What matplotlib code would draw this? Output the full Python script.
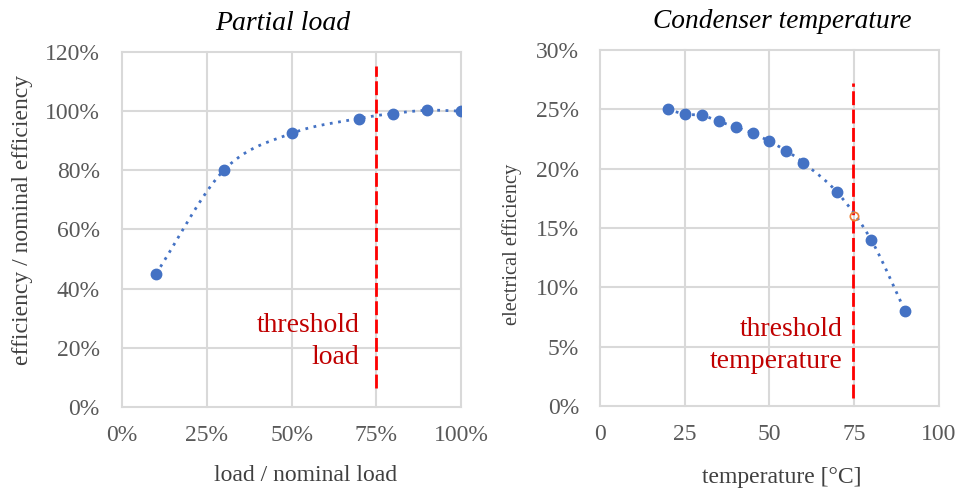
import numpy as np
import matplotlib
matplotlib.use("Agg")
import matplotlib.pyplot as plt
from matplotlib.ticker import FuncFormatter

# ---- data ----
load_x = [10, 30, 50, 70, 80, 90, 100]            # % of nominal load
load_eff = [45.0, 80.0, 92.5, 97.5, 99.2, 100.3, 100.0]  # % of nominal efficiency
load_threshold = 75
load_xticks = [0, 25, 50, 75, 100]
load_yticks = [0, 20, 40, 60, 80, 100, 120]

temp_x = [20, 25, 30, 35, 40, 45, 50, 55, 60, 70, 80, 90]   # degC
temp_eff = [25.0, 24.6, 24.5, 24.0, 23.5, 23.0, 22.3, 21.5, 20.5, 18.0, 14.0, 8.0]  # %
temp_threshold = 75
temp_threshold_eff = 16.0
temp_xticks = [0, 25, 50, 75, 100]
temp_yticks = [0, 5, 10, 15, 20, 25, 30]

BLUE = "#4472C4"
RED_LINE = "#FF0000"
RED_TEXT = "#C00000"
ORANGE = "#ED7D31"
GRID = "#D9D9D9"
TICK = "#595959"
LABEL = "#404040"

plt.rcParams['font.family'] = ['Liberation Serif', 'DejaVu Serif']

W, H = 961, 488


def catmull_rom(xs, ys, n=30):
    xs = np.asarray(xs, float)
    ys = np.asarray(ys, float)
    P = np.column_stack([xs, ys])
    P = np.vstack([2 * P[0] - P[1], P, 2 * P[-1] - P[-2]])
    out = []
    t = np.linspace(0, 1, n)[:, None]
    for i in range(1, len(P) - 2):
        p0, p1, p2, p3 = P[i - 1], P[i], P[i + 1], P[i + 2]
        seg = 0.5 * ((2 * p1) + (-p0 + p2) * t + (2 * p0 - 5 * p1 + 4 * p2 - p3) * t ** 2
                     + (-p0 + 3 * p1 - 3 * p2 + p3) * t ** 3)
        out.append(seg if i == 1 else seg[1:])
    out = np.vstack(out)
    return out[:, 0], out[:, 1]


fig = plt.figure(figsize=(W / 100, H / 100), dpi=100)
ax1 = fig.add_axes([0.1270, 0.1660, 0.3528, 0.7275])
ax2 = fig.add_axes([0.6243, 0.1680, 0.3528, 0.7295])


def style(ax, xt, yt, xfmt, yfmt, ypad):
    ax.set_xlim(xt[0], xt[-1])
    ax.set_ylim(yt[0], yt[-1])
    ax.set_xticks(xt)
    ax.set_yticks(yt)
    ax.xaxis.set_major_formatter(FuncFormatter(xfmt))
    ax.yaxis.set_major_formatter(FuncFormatter(yfmt))
    for s in ax.spines.values():
        s.set_visible(False)
    ax.grid(True, color=GRID, linewidth=1.5)
    for gl in ax.get_xgridlines() + ax.get_ygridlines():
        gl.set_clip_on(False)
    ax.set_axisbelow(True)
    ax.tick_params(axis='both', length=0, labelsize=17, labelcolor=TICK)
    ax.tick_params(axis='y', pad=ypad)
    ax.tick_params(axis='x', pad=13)


pct = lambda v, p: f"{v:.0f}%"
num = lambda v, p: f"{v:.0f}"


def ftext(px, py, s, **kw):
    fig.text(px / W, 1 - py / H, s, **kw)


# ---- left chart ----
style(ax1, load_xticks, load_yticks, pct, pct, 16)
cx, cy = catmull_rom(load_x, load_eff)
ax1.plot(cx, cy, color=BLUE, linestyle=(0, (1, 2)), linewidth=2, zorder=3)
ax1.plot(load_x, load_eff, 'o', color=BLUE, markersize=7.5, zorder=4)
ax1.plot([load_threshold, load_threshold], [6.4, 115.3], color=RED_LINE,
         linestyle=(0, (5, 1.6)), linewidth=2, zorder=2)
ax1.text(load_threshold - 5, 14.5, "threshold\nload", color=RED_TEXT, fontsize=20,
         ha='right', va='baseline', linespacing=1.36)
ftext(305.5, 481, "load / nominal load", fontsize=17, color=LABEL,
      ha='center', va='baseline')
ftext(23, 220, "efficiency / nominal efficiency", fontsize=17, color=LABEL,
      ha='center', va='center', rotation=90)

# ---- right chart ----
style(ax2, temp_xticks, temp_yticks, num, pct, 15)
cx, cy = catmull_rom(temp_x, temp_eff)
ax2.plot(cx, cy, color=BLUE, linestyle=(0, (1, 2)), linewidth=2, zorder=3)
ax2.plot(temp_x, temp_eff, 'o', color=BLUE, markersize=7.5, zorder=4)
ax2.plot([temp_threshold - 0.3, temp_threshold - 0.3], [0.65, 27.2], color=RED_LINE,
         linestyle=(0, (5, 1.6)), linewidth=2, zorder=2)
ax2.plot([temp_threshold], [temp_threshold_eff], 'o', mfc='none', mec=ORANGE,
         markersize=6, mew=1.2, zorder=5)
ax2.text(temp_threshold - 3.3, 3.2, "threshold\ntemperature", color=RED_TEXT, fontsize=20,
         ha='right', va='baseline', linespacing=1.36)
ftext(782, 483, "temperature [°C]", fontsize=17, color=LABEL,
      ha='center', va='baseline')
ftext(512, 244, "electrical efficiency", fontsize=14.8, color=LABEL,
      ha='center', va='center', rotation=90)

ftext(283, 23, "Partial load", fontsize=20, style='italic',
      ha='center', va='center', color='black')
ftext(782, 22, "Condenser temperature", fontsize=19.7, style='italic',
      ha='center', va='center', color='black')

fig.savefig("out.png", dpi=100)
